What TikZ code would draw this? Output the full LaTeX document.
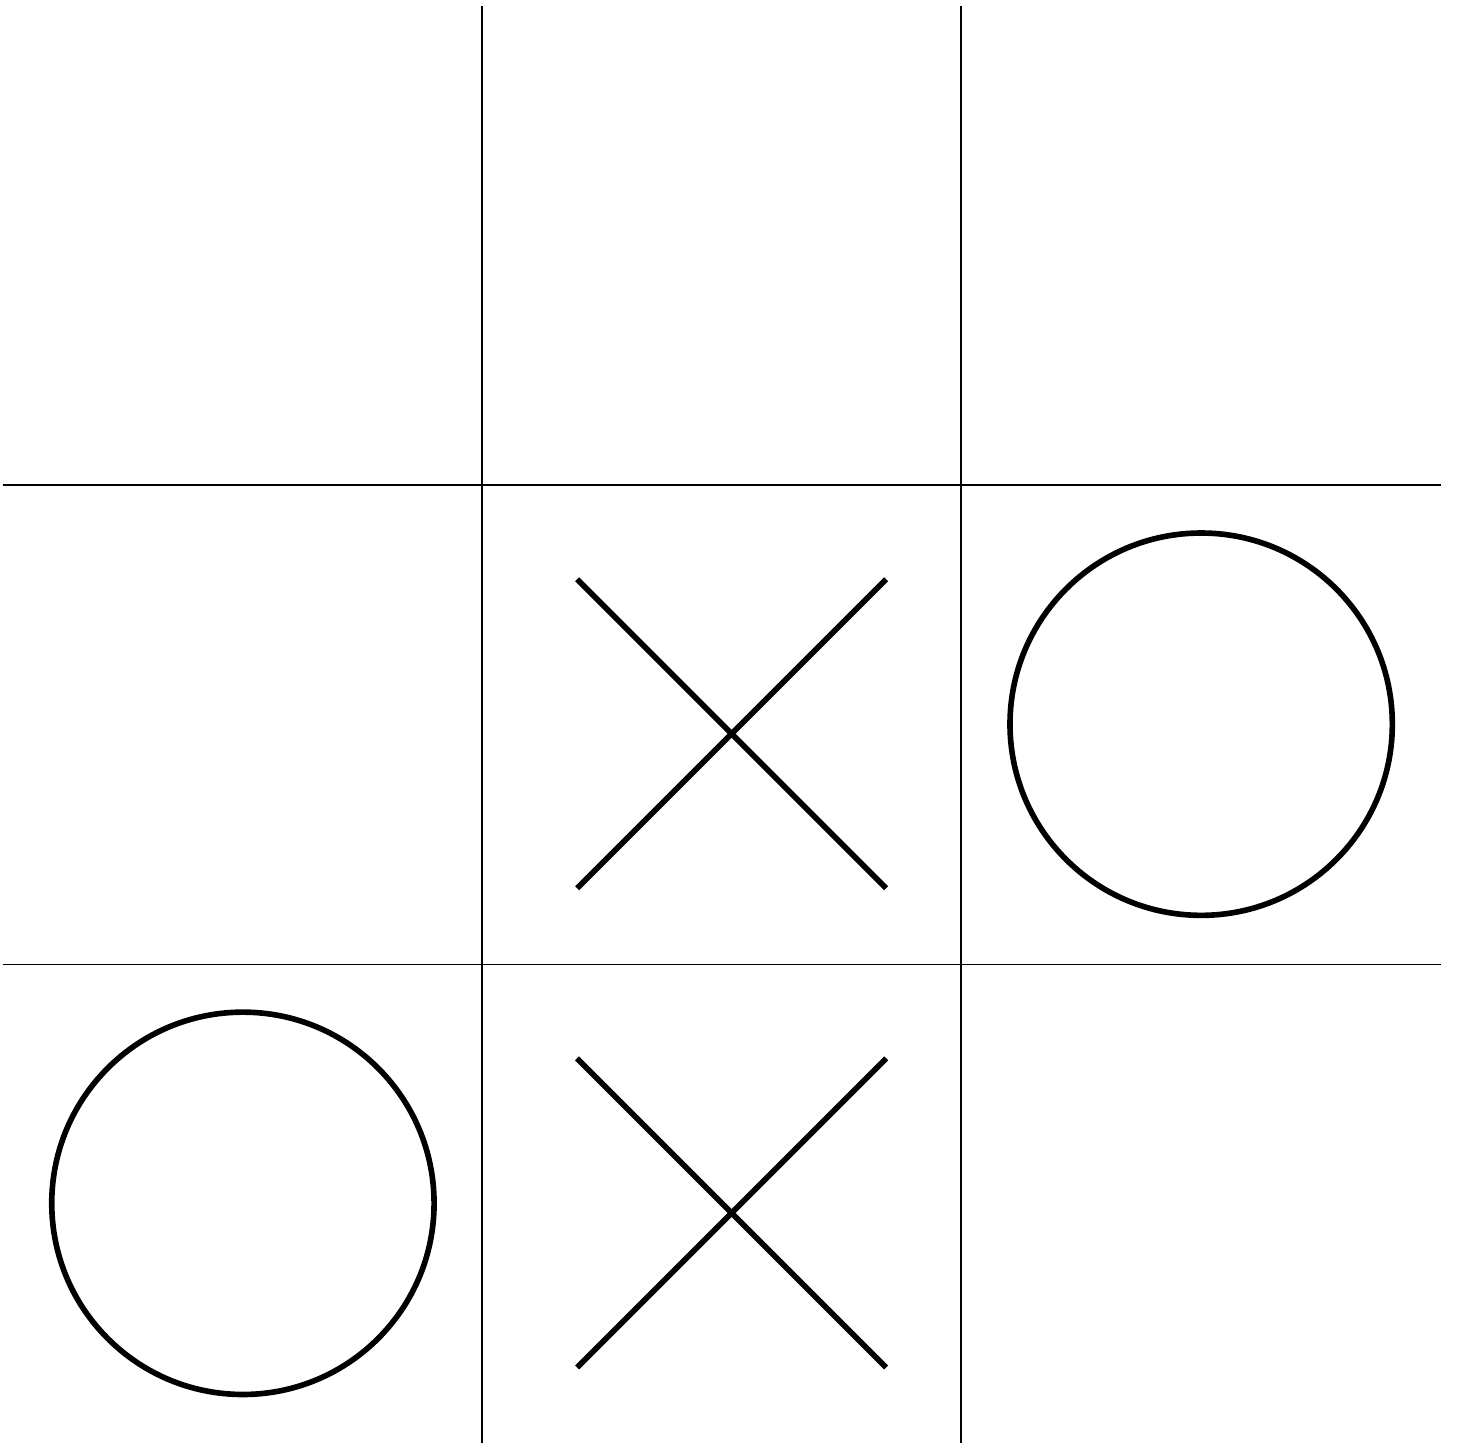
\documentclass[tikz,border=0pt]{standalone}
\begin{document}
\begin{tikzpicture}[x=4.79cm,y=4.79cm,mark line/.style={line width=1.6pt}]
\useasboundingbox (-0.006,-0.004) rectangle (3.035,3.0125);
% grid
\foreach \x in {1,2} \draw (\x,0) -- (\x,3);
\foreach \y in {1,2} \draw (0,\y) -- (3.002,\y);
% crosses
\foreach \cx/\cy in {1.521/1.481,1.521/0.481}
  {\draw[mark line] (\cx-0.3225,\cy+0.3225) -- (\cx+0.3225,\cy-0.3225);
   \draw[mark line] (\cx-0.3225,\cy-0.3225) -- (\cx+0.3225,\cy+0.3225);}
% noughts
\foreach \cx/\cy in {2.501/1.501,0.501/0.501}
  \draw[mark line] (\cx,\cy) circle (0.399);
\end{tikzpicture}
\end{document}
